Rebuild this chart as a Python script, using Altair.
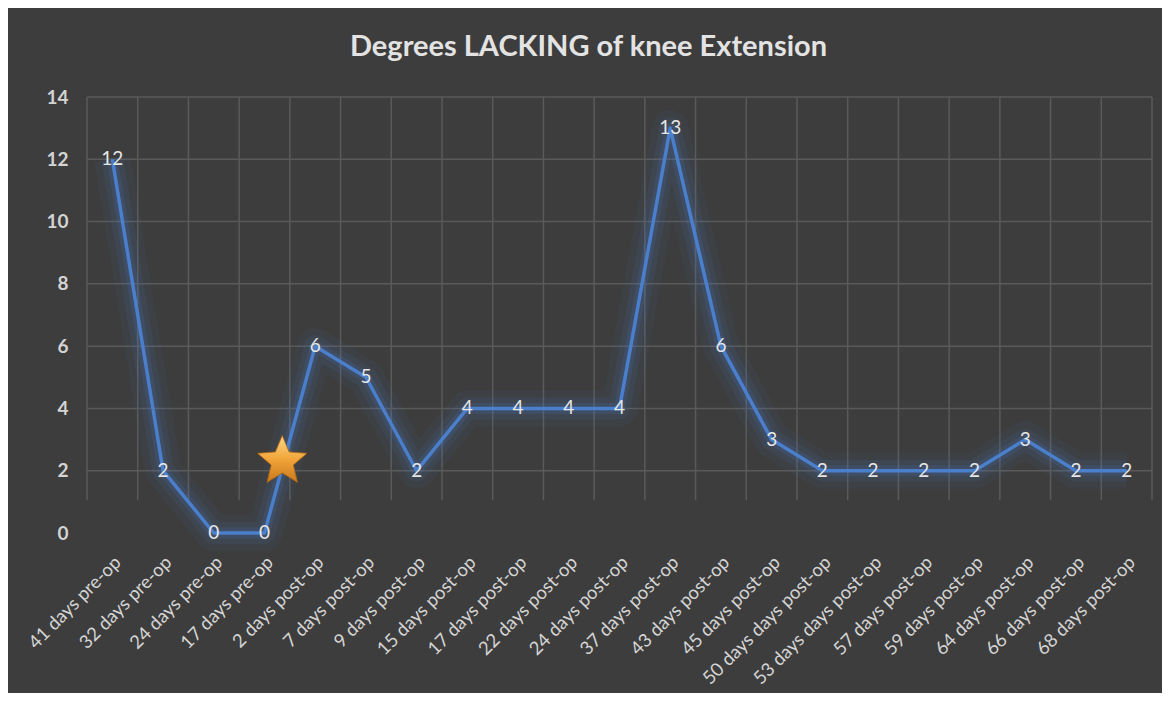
import altair as alt
import pandas as pd

labels = ["41 days pre-op", "32 days pre-op", "24 days pre-op", "17 days pre-op",
          "2 days post-op", "7 days post-op", "9 days post-op", "15 days post-op",
          "17 days post-op", "22 days post-op", "24 days post-op", "37 days post-op",
          "43 days post-op", "45 days post-op", "50 days days post-op",
          "53 days days post-op", "57 days post-op", "59 days post-op",
          "64 days post-op", "66 days post-op", "68 days post-op"]
values = [12, 2, 0, 0, 6, 5, 2, 4, 4, 4, 4, 13, 6, 3, 2, 2, 2, 2, 3, 2, 2]
star_idx = [3.35]
star_val = [2.3]
y_ticks = [0, 2, 4, 6, 8, 10, 12, 14]

df = pd.DataFrame({"idx": list(range(len(labels))), "label": labels, "value": values})
bounds = pd.DataFrame({"b": [i - 0.5 for i in range(len(labels) + 1)]})
hgrid = pd.DataFrame({"g": y_ticks[1:]})
star = pd.DataFrame({"idx": star_idx, "value": star_val})

FONT = "Lato"
TXT = "#d4d4d4"
GRID = "#5a5a5a"
BLUE = "#4a7fcc"
STAR_PATH = ("M0,-1 L0.265,-0.364 L0.951,-0.309 L0.428,0.139 L0.588,0.809 "
             "L0,0.45 L-0.588,0.809 L-0.428,0.139 L-0.951,-0.309 L-0.265,-0.364 Z")

label_arr = "[" + ",".join("'" + l + "'" for l in labels) + "]"

xscale = alt.Scale(domain=[-0.5, len(labels) - 0.5], nice=False, zero=False)
yscale = alt.Scale(domain=[0, 14], nice=False)

xaxis = alt.Axis(orient="bottom", values=list(range(len(labels))),
                 labelExpr=label_arr + "[datum.value]",
                 labelAngle=-45, labelAlign="right", labelBaseline="middle",
                 labelFont=FONT, labelFontSize=18.5, labelColor=TXT, labelPadding=26,
                 labelOffset=5,
                 domain=False, ticks=False, grid=False, title=None, labelOverlap=False,
                 labelBound=False, labelFlush=False)
yaxis = alt.Axis(orient="left", values=y_ticks, labelFont=FONT, labelFontSize=19,
                 labelFontWeight="bold", labelColor=TXT, labelPadding=19, domain=False,
                 ticks=False, grid=False, title=None)

enc = dict(x=alt.X("idx:Q", scale=xscale, axis=xaxis),
           y=alt.Y("value:Q", scale=yscale, axis=yaxis))

base = alt.Chart(df)
glow1 = base.mark_line(color=BLUE, strokeWidth=36, opacity=0.07, strokeJoin="round").encode(**enc)
glow2 = base.mark_line(color=BLUE, strokeWidth=22, opacity=0.09, strokeJoin="round").encode(**enc)
glow3 = base.mark_line(color=BLUE, strokeWidth=11, opacity=0.16, strokeJoin="round").encode(**enc)
line = base.mark_line(color=BLUE, strokeWidth=3.5, strokeJoin="round").encode(**enc)
text = base.mark_text(font=FONT, fontSize=19, color="#e6e6e6", baseline="middle",
                      align="center").encode(text="value:Q", **enc)

vgrid = alt.Chart(bounds).mark_rule(color=GRID, strokeWidth=1.5).encode(
    x=alt.X("b:Q", scale=xscale, axis=xaxis),
    y=alt.datum(14),
    y2=alt.datum(1.05),
)
hg = alt.Chart(hgrid).mark_rule(color=GRID, strokeWidth=1.5).encode(
    y=alt.Y("g:Q", scale=yscale, axis=yaxis),
    x=alt.datum(-0.5),
    x2=alt.datum(len(labels) - 0.5),
)
star_fill = alt.Gradient(gradient="linear", x1=0.5, y1=0, x2=0.5, y2=1,
                         stops=[alt.GradientStop(color="#fbd98a", offset=0),
                                alt.GradientStop(color="#f2a53a", offset=0.5),
                                alt.GradientStop(color="#c9781c", offset=1)])
star_mark = alt.Chart(star).mark_point(shape=STAR_PATH, filled=True, size=2700,
                                       fill=star_fill, stroke="#a8620f",
                                       strokeWidth=0.8, fillOpacity=1, opacity=1).encode(**enc)

chart = alt.layer(vgrid, hg, glow1, glow2, glow3, line, text, star_mark).properties(
    width=1065, height=436,
    autosize=alt.AutoSizeParams(type="none"),
    padding={"left": 79, "top": 89, "right": 10, "bottom": 160},
    background="#3d3d3d",
    title=alt.TitleParams("Degrees LACKING of knee Extension", font=FONT, fontSize=29,
                          fontWeight="bold", color="#e3e3e3", anchor="middle",
                          offset=26, dx=-31),
).configure_view(stroke=None)

chart.save("out.html", embed_options={"renderer": "svg", "actions": False})
